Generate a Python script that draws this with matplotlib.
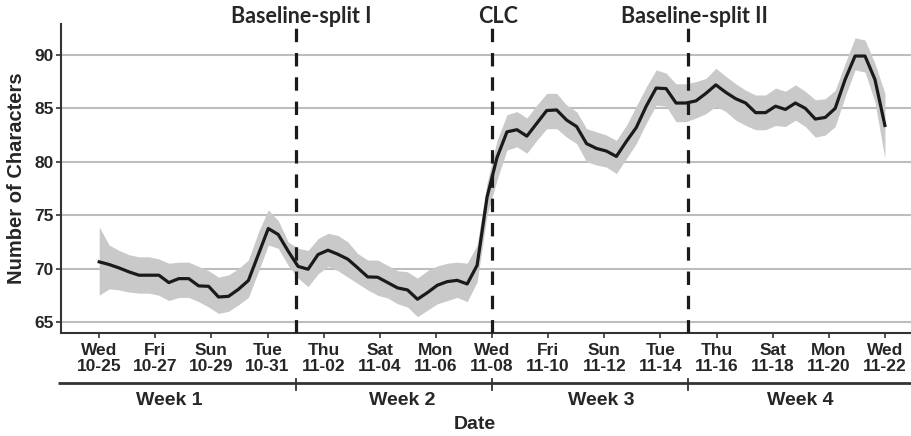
import matplotlib as mlp
mlp.use('Agg')
import matplotlib.pyplot as plt
import matplotlib.transforms as mtransforms
import numpy as np

# Samples over four weeks, x in days since Wed 10-25
days = np.linspace(0, 28, 80)
mean_chars = [70.63, 70.38, 70.06, 69.69, 69.38, 69.38, 69.38, 68.69, 69.06, 69.06,
              68.38, 68.34, 67.34, 67.40, 68.06, 68.88, 71.31, 73.75, 73.19, 71.63,
              70.20, 69.94, 71.31, 71.72, 71.34, 70.88, 70.06, 69.22, 69.19, 68.69,
              68.19, 68.00, 67.13, 67.75, 68.44, 68.78, 68.90, 68.56, 70.31, 76.70,
              80.40, 82.80, 83.00, 82.40, 83.60, 84.80, 84.85, 83.90, 83.30, 81.70,
              81.25, 81.00, 80.50, 81.90, 83.20, 85.20, 86.90, 86.85, 85.50, 85.50,
              85.70, 86.40, 87.20, 86.50, 85.90, 85.50, 84.60, 84.60, 85.20, 84.90,
              85.50, 85.00, 84.00, 84.15, 85.00, 87.70, 89.90, 89.90, 87.70, 83.40]
upper_ci = [73.9, 72.2, 71.7, 71.3, 71.1, 71.1, 70.9, 70.5, 70.6, 70.6,
            70.2, 69.8, 69.2, 69.4, 70.0, 70.8, 73.4, 75.5, 74.5, 72.5,
            71.9, 71.7, 72.8, 73.3, 73.1, 72.5, 71.4, 70.8, 70.8, 70.3,
            69.8, 69.7, 69.1, 69.8, 70.25, 70.5, 70.6, 70.5, 72.2, 78.0,
            82.0, 84.4, 84.7, 84.1, 85.3, 86.4, 86.4, 85.3, 84.7, 83.1,
            82.8, 82.5, 82.0, 83.4, 85.2, 87.0, 88.6, 88.3, 87.3, 87.3,
            87.5, 87.8, 88.75, 88.0, 87.3, 86.7, 86.25, 86.25, 86.9, 86.6,
            87.2, 86.6, 85.8, 85.9, 86.7, 89.2, 91.6, 91.4, 89.2, 86.4]
lower_ci = [67.5, 68.1, 68.0, 67.8, 67.7, 67.7, 67.5, 67.0, 67.3, 67.3,
            66.9, 66.4, 65.8, 66.0, 66.6, 67.3, 69.7, 72.2, 71.9, 70.3,
            69.1, 68.3, 69.5, 70.2, 69.8, 69.2, 68.6, 68.0, 67.5, 67.25,
            66.7, 66.4, 65.5, 66.1, 66.7, 67.0, 67.3, 66.9, 68.75, 75.0,
            78.3, 81.1, 81.4, 80.8, 82.0, 83.1, 83.1, 82.3, 81.7, 80.0,
            79.7, 79.5, 78.9, 80.3, 81.7, 83.6, 85.3, 85.2, 83.75, 83.75,
            84.1, 84.5, 85.2, 84.7, 83.9, 83.4, 83.0, 83.0, 83.4, 83.3,
            83.9, 83.3, 82.3, 82.5, 83.3, 86.1, 88.6, 88.4, 85.6, 80.3]

tick_days = list(range(0, 29, 2))
tick_labels = ['Wed\n10-25', 'Fri\n10-27', 'Sun\n10-29', 'Tue\n10-31',
               'Thu\n11-02', 'Sat\n11-04', 'Mon\n11-06', 'Wed\n11-08',
               'Fri\n11-10', 'Sun\n11-12', 'Tue\n11-14', 'Thu\n11-16',
               'Sat\n11-18', 'Mon\n11-20', 'Wed\n11-22']
event_days = [7, 14, 21]
event_names = ['Baseline-split I', 'CLC', 'Baseline-split II']
week_names = ['Week 1', 'Week 2', 'Week 3', 'Week 4']
week_label_days = [2.5, 10.8, 17.9, 25.0]

TEXT_COLOR = '#262626'
AXIS_COLOR = '#333333'
plt.rcParams['font.family'] = ['Liberation Sans', 'DejaVu Sans']
plt.rcParams['font.weight'] = 'bold'

fig = plt.figure(figsize=(9.11, 4.36), dpi=100)
ax = fig.add_axes([0.067, 0.237, 0.933, 0.708])

ax.fill_between(days, lower_ci, upper_ci, color='#c9c9c9', linewidth=0, zorder=2)
ax.plot(days, mean_chars, color='#1a1a1a', linewidth=2.3, zorder=3)

for d in event_days:
    ax.axvline(d, color='#1a1a1a', linewidth=2.3, linestyle=(0, (4.2, 3.4)), zorder=4)

ax.set_xlim(-1.36, 28.93)
ax.set_ylim(64.0, 92.9)
ax.set_yticks([65, 70, 75, 80, 85, 90])
ax.set_xticks(tick_days)
ax.set_xticklabels(tick_labels, linespacing=1.1)
ax.yaxis.grid(True, color='#bdbdbd', linewidth=1.5, zorder=0)
ax.set_axisbelow(True)

ax.spines['top'].set_visible(False)
ax.spines['right'].set_visible(False)
for s in ('left', 'bottom'):
    ax.spines[s].set_color(AXIS_COLOR)
    ax.spines[s].set_linewidth(1.5)
ax.tick_params(axis='both', colors=AXIS_COLOR, length=3.5, width=1.2,
               labelsize=12.5, labelcolor=TEXT_COLOR)
ax.tick_params(axis='x', pad=4)
ax.tick_params(axis='y', pad=2)
ax.set_ylabel('Number of Characters', fontsize=14.5, fontweight='bold',
              color=TEXT_COLOR, labelpad=6)

# event labels above the plot
top = mtransforms.blended_transform_factory(ax.transData, ax.transAxes)
for d, name in zip(event_days, event_names):
    ax.text(d + 0.2, 1.025, name, transform=top, ha='center', va='center',
            fontsize=15.5, fontweight='bold', family=['Lato', 'DejaVu Sans'],
            color=TEXT_COLOR, clip_on=False)

# week bracket under the date labels
ax.plot([-0.004, 1.0], [-0.1646, -0.1646], transform=ax.transAxes,
        color=AXIS_COLOR, linewidth=2.0, clip_on=False, solid_capstyle='butt')
for d in event_days:
    ax.plot([d, d], [-0.150, -0.185], transform=top, color=AXIS_COLOR,
            linewidth=1.3, clip_on=False)
for d, name in zip(week_label_days, week_names):
    ax.text(d, -0.221, name, transform=top, ha='center', va='center',
            fontsize=14, fontweight='bold', color=TEXT_COLOR, clip_on=False)
ax.text(13.4, -0.299, 'Date', transform=top, ha='center', va='center',
        fontsize=14, fontweight='bold', color=TEXT_COLOR, clip_on=False)

fig.savefig('out.png', dpi=100)
